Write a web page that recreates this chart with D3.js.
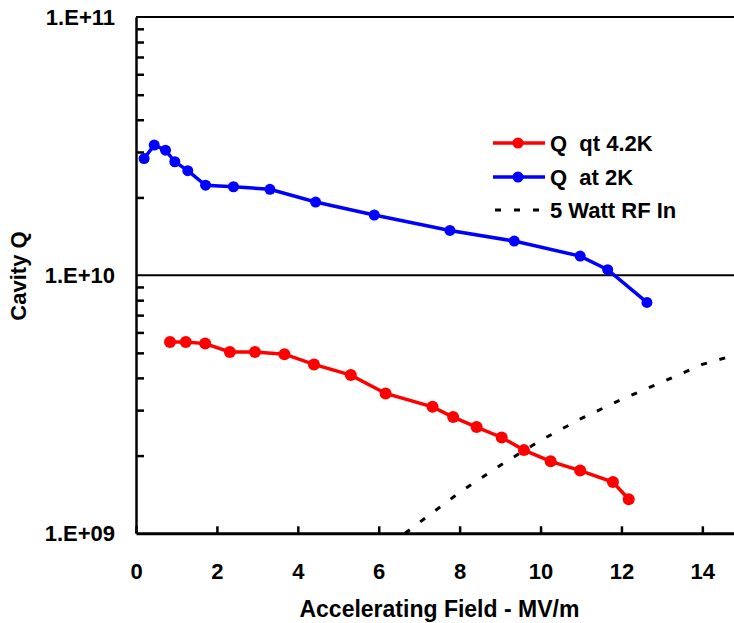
<!DOCTYPE html>
<html>
<head>
<meta charset="utf-8">
<script src="https://cdn.jsdelivr.net/npm/d3@7"></script>
<style>
  body { margin: 0; background: #fff; }
  svg text { font-family: "Liberation Sans", Arial, sans-serif; font-weight: bold; fill: #000; }
</style>
</head>
<body>
<script>
// accelerating field (MV/m) and cavity Q
var field2K = [0.20, 0.45, 0.73, 0.96, 1.28, 1.72, 2.41, 3.31, 4.44, 5.89, 7.76, 9.35, 10.98, 11.66, 12.63];
var q2K     = [2.83e10, 3.19e10, 3.05e10, 2.75e10, 2.54e10, 2.23e10, 2.20e10, 2.15e10, 1.92e10, 1.71e10, 1.49e10, 1.355e10, 1.185e10, 1.05e10, 7.84e9];

var field42K = [0.84, 1.23, 1.71, 2.32, 2.94, 3.67, 4.40, 5.31, 6.17, 7.33, 7.84, 8.42, 9.04, 9.59, 10.25, 10.98, 11.79, 12.18];
var q42K     = [5.51e9, 5.51e9, 5.43e9, 5.04e9, 5.04e9, 4.94e9, 4.51e9, 4.10e9, 3.48e9, 3.09e9, 2.82e9, 2.58e9, 2.35e9, 2.10e9, 1.90e9, 1.75e9, 1.58e9, 1.355e9];

var fieldRF = [6.65, 7, 8, 9, 10, 11, 12, 13, 14, 15];
var qRF     = [1.0e9, 1.10e9, 1.44e9, 1.83e9, 2.29e9, 2.78e9, 3.30e9, 3.85e9, 4.51e9, 5.0e9];

var xTicks = [0, 2, 4, 6, 8, 10, 12, 14];
var yMajor = [1e9, 1e10, 1e11];
var legendLabels = ["Q  qt 4.2K", "Q  at 2K", "5 Watt RF In"];

var W = 734, H = 623;
var pad = { left: 136, top: 17, bottom: 533.3, right: 742.8 };

var svg = d3.select("body").append("svg")
	.attr("width", W)
	.attr("height", H);

var x = d3.scaleLinear().domain([0, 15]).range([pad.left, pad.right]);
var y = d3.scaleLog().domain([1e9, 1e11]).range([pad.bottom, pad.top]);

// minor ticks of the log axis
var yMinor = [];
[1e9, 1e10].forEach(function(dec){
	for (var m = 2; m < 10; m++) yMinor.push(dec * m);
});

// gridlines at the decades
svg.append("g").selectAll("line").data([1e10, 1e11]).enter().append("line")
	.attr("x1", pad.left).attr("x2", W)
	.attr("y1", function(d){ return y(d); })
	.attr("y2", function(d){ return y(d); })
	.attr("stroke", "#000").attr("stroke-width", 2);

// y axis: minor ticks pointing in
var yAxisMinor = d3.axisLeft(y).tickValues(yMinor).tickSizeInner(-8).tickSizeOuter(0).tickFormat("");
var gy = svg.append("g").attr("transform", "translate(" + pad.left + ",0)").call(yAxisMinor);
gy.select(".domain").attr("stroke", "#000").attr("stroke-width", 2.5);
gy.selectAll(".tick line").attr("stroke", "#000").attr("stroke-width", 2.5);

// y labels
var yLabels = d3.axisLeft(y).tickValues(yMajor).tickSize(0).tickPadding(21)
	.tickFormat(function(d){ return "1.E+" + String(Math.round(Math.log10(d))).padStart(2, "0"); });
var gyl = svg.append("g").attr("transform", "translate(" + pad.left + ",0)").call(yLabels);
gyl.select(".domain").remove();
gyl.selectAll("text").attr("font-size", 22).style("font-family", "Liberation Sans, Arial, sans-serif").style("font-weight", "bold");

// x axis
var xAxis = d3.axisBottom(x).tickValues(xTicks).tickSizeInner(-7).tickSizeOuter(0).tickPadding(30);
var gx = svg.append("g").attr("transform", "translate(0," + pad.bottom + ")").call(xAxis);
gx.select(".domain").attr("stroke-width", 3);
gx.selectAll(".tick line").attr("stroke-width", 2.5);
gx.selectAll("text").attr("font-size", 22).style("font-family", "Liberation Sans, Arial, sans-serif").style("font-weight", "bold");

// axis titles
svg.append("text")
	.attr("x", (pad.left + pad.right) / 2).attr("y", 617)
	.attr("text-anchor", "middle")
	.attr("font-size", 23)
	.text("Accelerating Field - MV/m");

svg.append("text")
	.attr("transform", "translate(26,276) rotate(-90)")
	.attr("text-anchor", "middle")
	.attr("font-size", 22)
	.text("Cavity Q");

// plot region clip
svg.append("clipPath").attr("id", "plot")
	.append("rect").attr("x", pad.left).attr("y", pad.top).attr("width", W - pad.left).attr("height", pad.bottom - pad.top);

var line = d3.line()
	.x(function(d){ return x(d[0]); })
	.y(function(d){ return y(d[1]); });

var plot = svg.append("g").attr("clip-path", "url(#plot)");

var rf = d3.zip(fieldRF, qRF);
plot.append("path").datum(rf)
	.attr("d", line)
	.attr("fill", "none").attr("stroke", "#000")
	.attr("stroke-width", 3).attr("stroke-dasharray", "6,13");

function drawSeries(xs, ys, colour, r){
	var pts = d3.zip(xs, ys);
	plot.append("path").datum(pts)
		.attr("d", line)
		.attr("fill", "none").attr("stroke", colour).attr("stroke-width", 3.5);
	plot.append("g").selectAll("circle").data(pts).enter().append("circle")
		.attr("cx", function(d){ return x(d[0]); })
		.attr("cy", function(d){ return y(d[1]); })
		.attr("r", r)
		.attr("fill", colour);
}
drawSeries(field42K, q42K, "#ff0000", 6);
drawSeries(field2K, q2K, "#0000ff", 5.5);

// legend
var legend = svg.append("g");
var legY = [143, 177, 210];
var legStyle = [
	{ colour: "#ff0000", dash: null, marker: true },
	{ colour: "#0000ff", dash: null, marker: true },
	{ colour: "#000", dash: "6,13", marker: false }
];
legendLabels.forEach(function(lab, i){
	var s = legStyle[i];
	legend.append("line")
		.attr("x1", s.dash ? 495 : 493).attr("x2", 545)
		.attr("y1", legY[i]).attr("y2", legY[i])
		.attr("stroke", s.colour).attr("stroke-width", s.dash ? 3 : 3.5)
		.attr("stroke-dasharray", s.dash);
	if (s.marker) {
		legend.append("circle").attr("cx", 518).attr("cy", legY[i]).attr("r", 5.5).attr("fill", s.colour);
	}
	legend.append("text")
		.attr("x", 550).attr("y", legY[i]).attr("dy", "0.36em")
		.attr("font-size", 22)
		.style("white-space", "pre")
		.text(lab);
});
</script>
</body>
</html>
